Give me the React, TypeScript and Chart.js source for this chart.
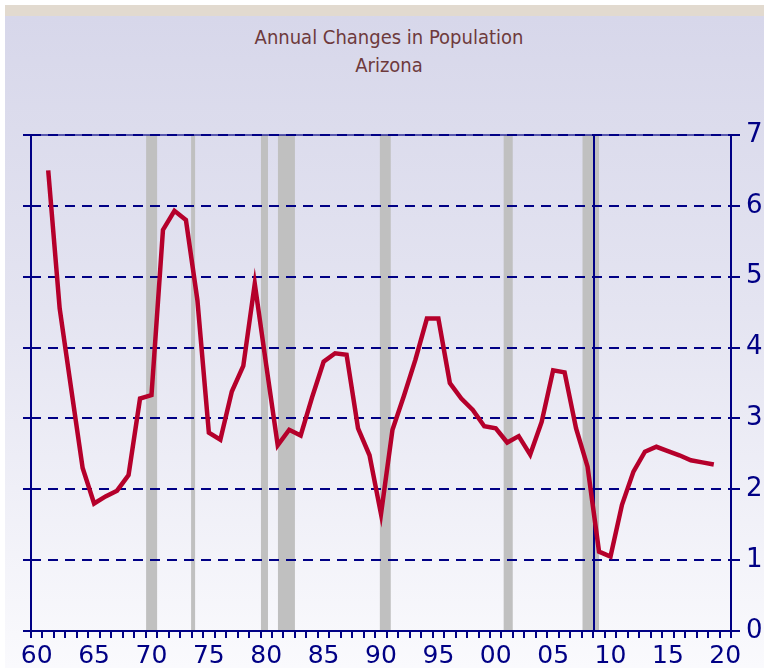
import React, { useEffect, useRef } from "react";
import { Chart, registerables } from "chart.js";

Chart.register(...registerables);

const years: string[] = [];
for (let y = 1960; y <= 2020; y++) years.push(String(y));

// annual % change in population, 1960..2020 (null where no value)
const popChange: (number | null)[] = [
  null, 6.5, 4.55, 3.42, 2.3, 1.8, 1.9, 1.98, 2.2, 3.28,
  3.33, 5.66, 5.93, 5.8, 4.67, 2.8, 2.7, 3.38, 3.74, 4.9,
  3.75, 2.62, 2.84, 2.76, 3.3, 3.8, 3.92, 3.9, 2.86, 2.48,
  1.65, 2.84, 3.32, 3.83, 4.41, 4.41, 3.5, 3.28, 3.12, 2.89,
  2.86, 2.66, 2.75, 2.49, 2.95, 3.68, 3.65, 2.86, 2.32, 1.12,
  1.05, 1.78, 2.25, 2.53, 2.6, 2.54, 2.48, 2.41, 2.38, 2.35,
  null,
];

const recessionStart = [1969.53, 1973.45, 1979.54, 1981.02, 1989.9, 2000.69, 2007.56];
const recessionEnd = [1970.49, 1973.8, 1980.15, 1982.5, 1990.85, 2001.48, 2009.0];
const forecastDivider = 2008.6;

const yTicks = [0, 1, 2, 3, 4, 5, 6, 7];

const NAVY = "#000085";

const decorPlugin = {
  id: "decor",
  beforeDraw(chart: any) {
    const { ctx, chartArea, scales } = chart;
    const x = scales.x;
    ctx.save();
    ctx.fillStyle = "#c0c0c0";
    for (let i = 0; i < recessionStart.length; i++) {
      const x0 = x.getPixelForValue(recessionStart[i] - 1960);
      const x1 = x.getPixelForValue(recessionEnd[i] - 1960);
      ctx.fillRect(x0, chartArea.top, x1 - x0, chartArea.bottom - chartArea.top);
    }
    ctx.restore();
  },
  beforeDatasetsDraw(chart: any) {
    const { ctx, chartArea, scales } = chart;
    const x = scales.x;
    ctx.save();
    ctx.strokeStyle = NAVY;
    ctx.lineWidth = 2;
    const px = Math.round(x.getPixelForValue(forecastDivider - 1960));
    ctx.beginPath();
    ctx.moveTo(px, chartArea.top);
    ctx.lineTo(px, chartArea.bottom);
    ctx.stroke();
    // top frame line
    ctx.strokeStyle = "rgba(0,0,133,0.6)";
    ctx.lineWidth = 2;
    ctx.beginPath();
    ctx.moveTo(chartArea.left - 8, chartArea.top);
    ctx.lineTo(chartArea.right + 9, chartArea.top);
    ctx.stroke();
    ctx.restore();
  },
};

export default function App() {
  const ref = useRef<HTMLCanvasElement | null>(null);

  useEffect(() => {
    if (!ref.current) return;
    const chart = new Chart(ref.current, {
      type: "line",
      data: {
        labels: years,
        datasets: [
          {
            data: popChange,
            borderColor: "#b5002b",
            borderWidth: 4.5,
            pointRadius: 0,
            tension: 0,
            fill: false,
            yAxisID: "y",
          },
        ],
      },
      options: {
        responsive: false,
        animation: false,
        events: [],
        layout: { padding: { top: 35, left: 0, right: 0, bottom: 0 } },
        plugins: { legend: { display: false }, tooltip: { enabled: false }, title: { display: false } },
        scales: {
          x: {
            type: "category",
            offset: true,
            afterFit: (s: any) => { s.height = 37; },
            ticks: {
              autoSkip: false,
              maxRotation: 0,
              minRotation: 0,
              padding: 3,
              color: NAVY,
              font: { family: "'DejaVu Sans'", size: 25 },
              callback: (_v: any, i: number) => {
                const yr = Number(years[i]);
                return yr % 5 === 0 ? String(yr % 100).padStart(2, "0") : "";
              },
            },
            grid: {
              display: true,
              offset: true,
              drawOnChartArea: false,
              drawTicks: true,
              tickLength: 7,
              color: NAVY,
              lineWidth: 2,
            },
            border: { display: true, color: NAVY, width: 2 },
          },
          y: {
            type: "linear",
            position: "right",
            min: 0,
            max: 7,
            afterFit: (s: any) => { s.width = 33; },
            afterBuildTicks: (s: any) => { s.ticks = yTicks.map((v) => ({ value: v })); },
            ticks: {
              stepSize: 1,
              padding: 6,
              color: NAVY,
              font: { family: "'DejaVu Sans'", size: 26 },
            },
            grid: {
              color: NAVY,
              lineWidth: 2,
              tickLength: 9,
              drawOnChartArea: true,
              drawTicks: true,
            },
            border: { display: true, color: NAVY, width: 2, dash: [10, 7] },
          },
          yl: {
            type: "linear",
            position: "left",
            min: 0,
            max: 7,
            afterFit: (s: any) => { s.width = 31; },
            afterBuildTicks: (s: any) => { s.ticks = yTicks.map((v) => ({ value: v })); },
            ticks: { display: false, stepSize: 1 },
            grid: {
              color: NAVY,
              lineWidth: 2,
              tickLength: 8,
              drawOnChartArea: false,
              drawTicks: true,
            },
            border: { display: true, color: NAVY, width: 2 },
          },
        },
      },
      plugins: [decorPlugin],
    });
    return () => chart.destroy();
  }, []);

  return (
    <div style={{ position: "absolute", left: 0, top: 0, width: 764, height: 668, background: "#ffffff", overflow: "hidden" }}>
      <div style={{ position: "absolute", left: 5, top: 5, width: 759, height: 11, background: "#e2dacf" }} />
      <div
        style={{
          position: "absolute",
          left: 5,
          top: 16,
          width: 759,
          height: 652,
          background: "linear-gradient(to bottom, #d7d7ea 0%, #e4e4f1 45%, #fafafd 100%)",
        }}
      />
      <div
        style={{
          position: "absolute",
          left: 0,
          top: 23,
          width: 778,
          textAlign: "center",
          color: "#6e3a3c",
          fontFamily: "'Liberation Sans Narrow', 'DejaVu Sans Condensed', sans-serif",
          fontSize: 20,
          lineHeight: "28px",
        }}
      >
        <div>Annual Changes in Population</div>
        <div>Arizona</div>
      </div>
      <canvas ref={ref} width={764} height={568} style={{ position: "absolute", left: 0, top: 100, width: 764, height: 568 }} />
    </div>
  );
}
